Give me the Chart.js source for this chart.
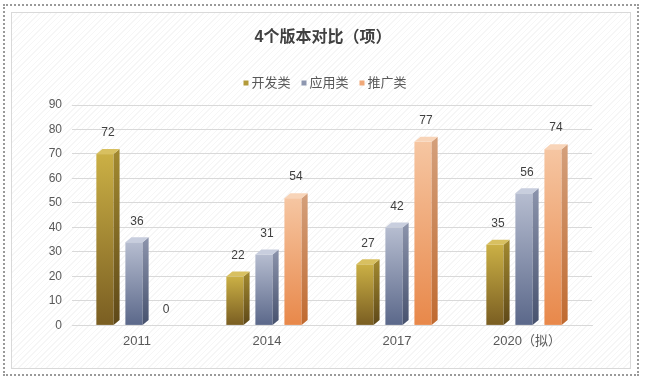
<!DOCTYPE html>
<html>
<head>
<meta charset="utf-8">
<script src="https://cdn.jsdelivr.net/npm/chart.js@4/dist/chart.umd.min.js"></script>
<style>
  html, body { margin: 0; padding: 0; background: #fff; }
  #wrap { position: relative; width: 646px; height: 383px; overflow: hidden; }
  #outer { position: absolute; left: 3px; top: 4px; width: 636px; height: 372px; border: 2px dotted #9a9a9a; box-sizing: border-box; }
  #inner { position: absolute; left: 11px; top: 12px; width: 620px; height: 357px; border: 1px solid #d9d9d9; box-sizing: border-box;
    background: repeating-linear-gradient(135deg, #ffffff 0px, #ffffff 3px, #f6f6f6 3px, #f6f6f6 4px); }
  canvas { position: absolute; left: 0; top: 0; }
</style>
</head>
<body>
<div id="wrap">
  <div id="outer"></div>
  <div id="inner"></div>
  <canvas id="c" width="646" height="383"></canvas>
</div>
<script>
const titleText = '4个版本对比（项）';
const categories = ['2011', '2014', '2017', '2020（拟）'];
const seriesNames = ['开发类', '应用类', '推广类'];
const devValues = [72, 22, 27, 35];
const appValues = [36, 31, 42, 56];
const promoValues = [0, 54, 77, 74];
const yTicks = [0, 10, 20, 30, 40, 50, 60, 70, 80, 90];

const palettes = [
  { legend: '#b39a3a', top: '#d8c060', frontTop: '#cbb045', frontBot: '#7a5e22', sideTop: '#a38a30', sideBot: '#5e4818' },
  { legend: '#8e97b0', top: '#c8cede', frontTop: '#b6bdd0', frontBot: '#5b688a', sideTop: '#8c94ac', sideBot: '#47526e' },
  { legend: '#f0a878', top: '#f8d4b8', frontTop: '#f6c6a2', frontBot: '#e8884a', sideTop: '#d4a07c', sideBot: '#c06a30' }
];

const FONT = '"Liberation Sans", "Noto Sans CJK SC", sans-serif';

const bar3d = {
  id: 'bar3d',
  afterDatasetsDraw(chart) {
    const ctx = chart.ctx;
    chart.data.datasets.forEach((ds, di) => {
      const meta = chart.getDatasetMeta(di);
      const pal = palettes[di];
      meta.data.forEach((el, i) => {
        const p = el.getProps(['x', 'y', 'base', 'width'], true);
        const v = ds.data[i];
        const left = p.x - p.width / 2;
        const right = p.x + p.width / 2;
        const d = 6, dy = 5;
        const top = p.y, base = p.base;
        if (v > 0) {
          const fl = left, fr = right - d, ft = Math.min(top + dy, base);
          let g = ctx.createLinearGradient(0, ft, 0, base);
          g.addColorStop(0, pal.frontTop); g.addColorStop(1, pal.frontBot);
          ctx.fillStyle = g;
          ctx.fillRect(fl, ft, fr - fl, base - ft);
          g = ctx.createLinearGradient(0, top, 0, base);
          g.addColorStop(0, pal.sideTop); g.addColorStop(1, pal.sideBot);
          ctx.fillStyle = g;
          ctx.beginPath();
          ctx.moveTo(fr, ft); ctx.lineTo(right, top); ctx.lineTo(right, base - dy); ctx.lineTo(fr, base);
          ctx.closePath(); ctx.fill();
          ctx.fillStyle = pal.top;
          ctx.beginPath();
          ctx.moveTo(fl, ft); ctx.lineTo(fl + d, top); ctx.lineTo(right, top); ctx.lineTo(fr, ft);
          ctx.closePath(); ctx.fill();
        }
        ctx.fillStyle = '#404040';
        ctx.font = '12px ' + FONT;
        ctx.textAlign = 'center';
        ctx.textBaseline = 'middle';
        ctx.fillText(String(v), p.x, top - 16);
      });
    });
  }
};

// Legend drawn between title and plot area
const customLegend = {
  id: 'customLegend',
  afterDraw(chart) {
    const ctx = chart.ctx;
    ctx.save();
    ctx.font = '13px ' + FONT;
    const box = 5, boxGap = 3, itemGap = 11;
    const widths = seriesNames.map(n => box + boxGap + ctx.measureText(n).width);
    const total = widths.reduce((a, b) => a + b, 0) + itemGap * (seriesNames.length - 1);
    const cx = chart.width / 2 + 2;
    const cy = chart.chartArea.top - 22;
    let x = cx - total / 2;
    ctx.textBaseline = 'middle';
    ctx.textAlign = 'left';
    seriesNames.forEach((n, i) => {
      ctx.fillStyle = palettes[i].legend;
      ctx.fillRect(x, cy - box / 2, box, box);
      ctx.fillStyle = '#595959';
      ctx.fillText(n, x + box + boxGap, cy);
      x += widths[i] + itemGap;
    });
    ctx.restore();
  }
};

new Chart(document.getElementById('c'), {
  type: 'bar',
  data: {
    labels: categories,
    datasets: [
      { label: seriesNames[0], data: devValues },
      { label: seriesNames[1], data: appValues },
      { label: seriesNames[2], data: promoValues }
    ].map(d => Object.assign(d, { backgroundColor: 'rgba(0,0,0,0)', borderWidth: 0, categoryPercentage: 0.67, barPercentage: 0.8, yAxisID: 'y' }))
  },
  options: {
    responsive: false,
    animation: false,
    devicePixelRatio: 1,
    layout: { padding: { left: 42, right: 42, top: 10, bottom: 26 } },
    plugins: {
      title: {
        display: true, text: titleText, color: '#404040',
        font: { family: FONT, size: 16, weight: 'bold' },
        padding: { top: 17.5, bottom: 58.3 }
      },
      legend: { display: false },
      tooltip: { enabled: false }
    },
    scales: {
      x: {
        grid: { display: false, drawTicks: false },
        border: { display: true, color: '#d9d9d9' },
        ticks: { color: '#595959', font: { family: FONT, size: 13 }, padding: 8 }
      },
      y: {
        position: 'left',
        min: 0, max: 90,
        afterBuildTicks(scale) { scale.ticks = yTicks.map(v => ({ value: v })); },
        afterFit(scale) { scale.width = 30; },
        grid: { color: '#d9d9d9', drawTicks: false },
        border: { display: false },
        ticks: { color: '#595959', font: { family: FONT, size: 12 }, padding: 10 }
      },
      y2: {
        type: 'linear', position: 'right', min: 0, max: 90,
        afterFit(scale) { scale.width = 12; },
        grid: { display: false, drawTicks: false },
        border: { display: false },
        ticks: { display: false }
      }
    }
  },
  plugins: [bar3d, customLegend]
});
</script>
</body>
</html>
